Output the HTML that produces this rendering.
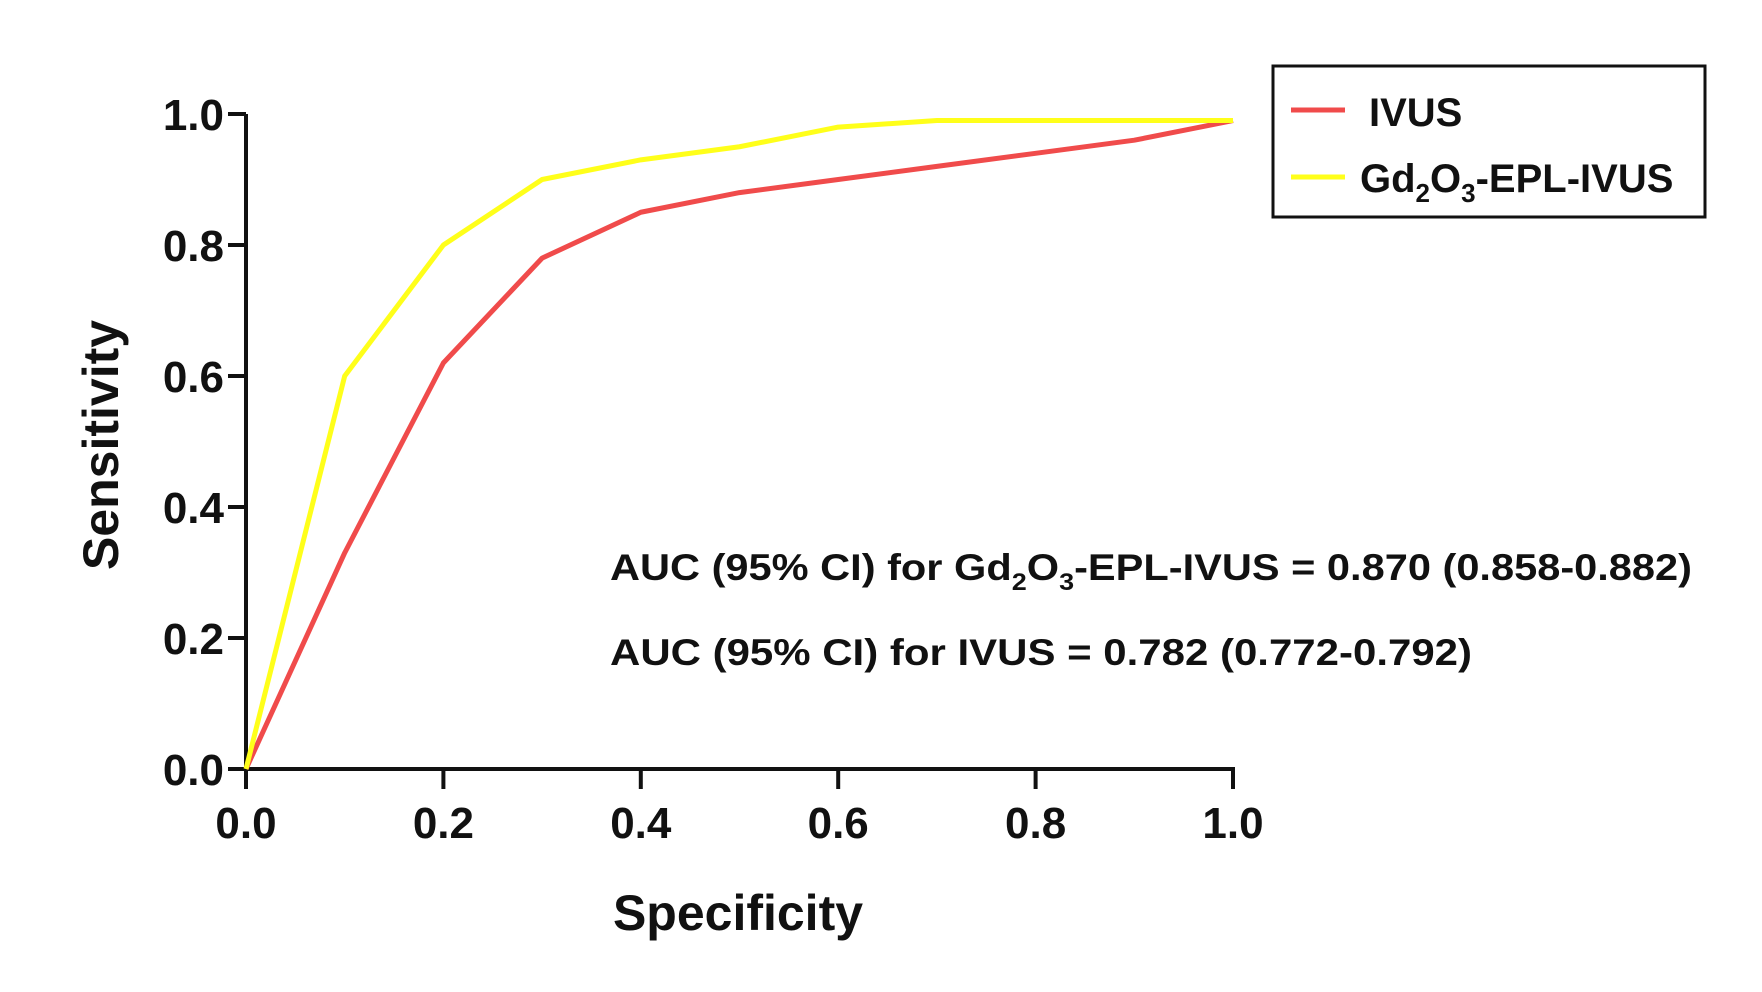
<!DOCTYPE html>
<html><head><meta charset="utf-8"><style>
html,body{margin:0;padding:0;background:#fff}
svg{display:block}
text{font-family:"Liberation Sans",Arial,sans-serif;font-weight:bold;fill:#111}
</style></head><body>
<svg id="chart" width="1762" height="992" viewBox="0 0 1762 992" xmlns="http://www.w3.org/2000/svg">
<g id="axes"></g>
<g id="series"></g>
<text transform="translate(118,445) rotate(-90)" text-anchor="middle" font-size="50">Sensitivity</text>
<text x="738" y="930" text-anchor="middle" font-size="50">Specificity</text>
<text x="610" y="580" font-size="37" textLength="1082" lengthAdjust="spacingAndGlyphs">AUC (95% CI) for Gd<tspan font-size="24" dy="10">2</tspan><tspan dy="-10">O</tspan><tspan font-size="24" dy="10">3</tspan><tspan dy="-10">-EPL-IVUS = 0.870 (0.858-0.882)</tspan></text>
<text x="610" y="665" font-size="37" textLength="862" lengthAdjust="spacingAndGlyphs">AUC (95% CI) for IVUS = 0.782 (0.772-0.792)</text>
<g>
<rect x="1273" y="66" width="432" height="151" fill="#fff" stroke="#111" stroke-width="3"/>
<line x1="1291" y1="110" x2="1345" y2="110" stroke="#f04b4b" stroke-width="5"/>
<text x="1369" y="126" font-size="40">IVUS</text>
<line x1="1291" y1="177" x2="1345" y2="177" stroke="#ffff1a" stroke-width="5"/>
<text x="1360" y="192" font-size="40">Gd<tspan font-size="26" dy="10">2</tspan><tspan dy="-10">O</tspan><tspan font-size="26" dy="10">3</tspan><tspan dy="-10">-EPL-IVUS</tspan></text>
</g>
</svg>
<script>
const xValues = [0, 0.1, 0.2, 0.3, 0.4, 0.5, 0.6, 0.7, 0.8, 0.9, 1.0];
const ivusValues = [0, 0.33, 0.62, 0.78, 0.85, 0.88, 0.90, 0.92, 0.94, 0.96, 0.99];
const gdValues = [0, 0.60, 0.80, 0.90, 0.93, 0.95, 0.98, 0.99, 0.99, 0.99, 0.99];
const tickValues = [0, 0.2, 0.4, 0.6, 0.8, 1.0];
const tickLabels = ["0.0", "0.2", "0.4", "0.6", "0.8", "1.0"];

const X0 = 246, X1 = 1233, Y0 = 769, Y1 = 114;
const sx = v => X0 + (X1 - X0) * v;
const sy = v => Y0 - (Y0 - Y1) * v;
const NS = "http://www.w3.org/2000/svg";
function mk(tag, attrs, parent) {
  const e = document.createElementNS(NS, tag);
  for (const k in attrs) e.setAttribute(k, attrs[k]);
  parent.appendChild(e);
  return e;
}
const axes = document.getElementById("axes");
const series = document.getElementById("series");

const ya = mk("line", {x1: X0, y1: Y1, x2: X0, y2: Y0, stroke: "#111", "stroke-width": 4}, axes);


const xa = mk("line", {x1: X0 - 2, y1: Y0, x2: X1 + 2, y2: Y0, stroke: "#111", "stroke-width": 4}, axes);



tickValues.forEach((v, i) => {
  const yt = mk("line", {x1: X0 - 18, y1: sy(v), x2: X0, y2: sy(v), stroke: "#111", "stroke-width": 4}, axes);
  
  
  const yl = mk("text", {x: X0 - 22, y: sy(v) + 16, "text-anchor": "end", "font-size": 44}, axes);
  yl.textContent = tickLabels[i];
  
  
  const xt = mk("line", {x1: sx(v), y1: Y0, x2: sx(v), y2: Y0 + 20, stroke: "#111", "stroke-width": 4}, axes);
  
  
  const xl = mk("text", {x: sx(v), y: 838, "text-anchor": "middle", "font-size": 44}, axes);
  xl.textContent = tickLabels[i];
  
  
});

function pts(vals) { return xValues.map((x, i) => sx(x) + "," + sy(vals[i])).join(" "); }
const redLine = mk("polyline", {points: pts(ivusValues), fill: "none", stroke: "#f04b4b", "stroke-width": 5, "stroke-linejoin": "round"}, series);


const yelLine = mk("polyline", {points: pts(gdValues), fill: "none", stroke: "#ffff1a", "stroke-width": 5, "stroke-linejoin": "round"}, series);


</script>
</body></html>
